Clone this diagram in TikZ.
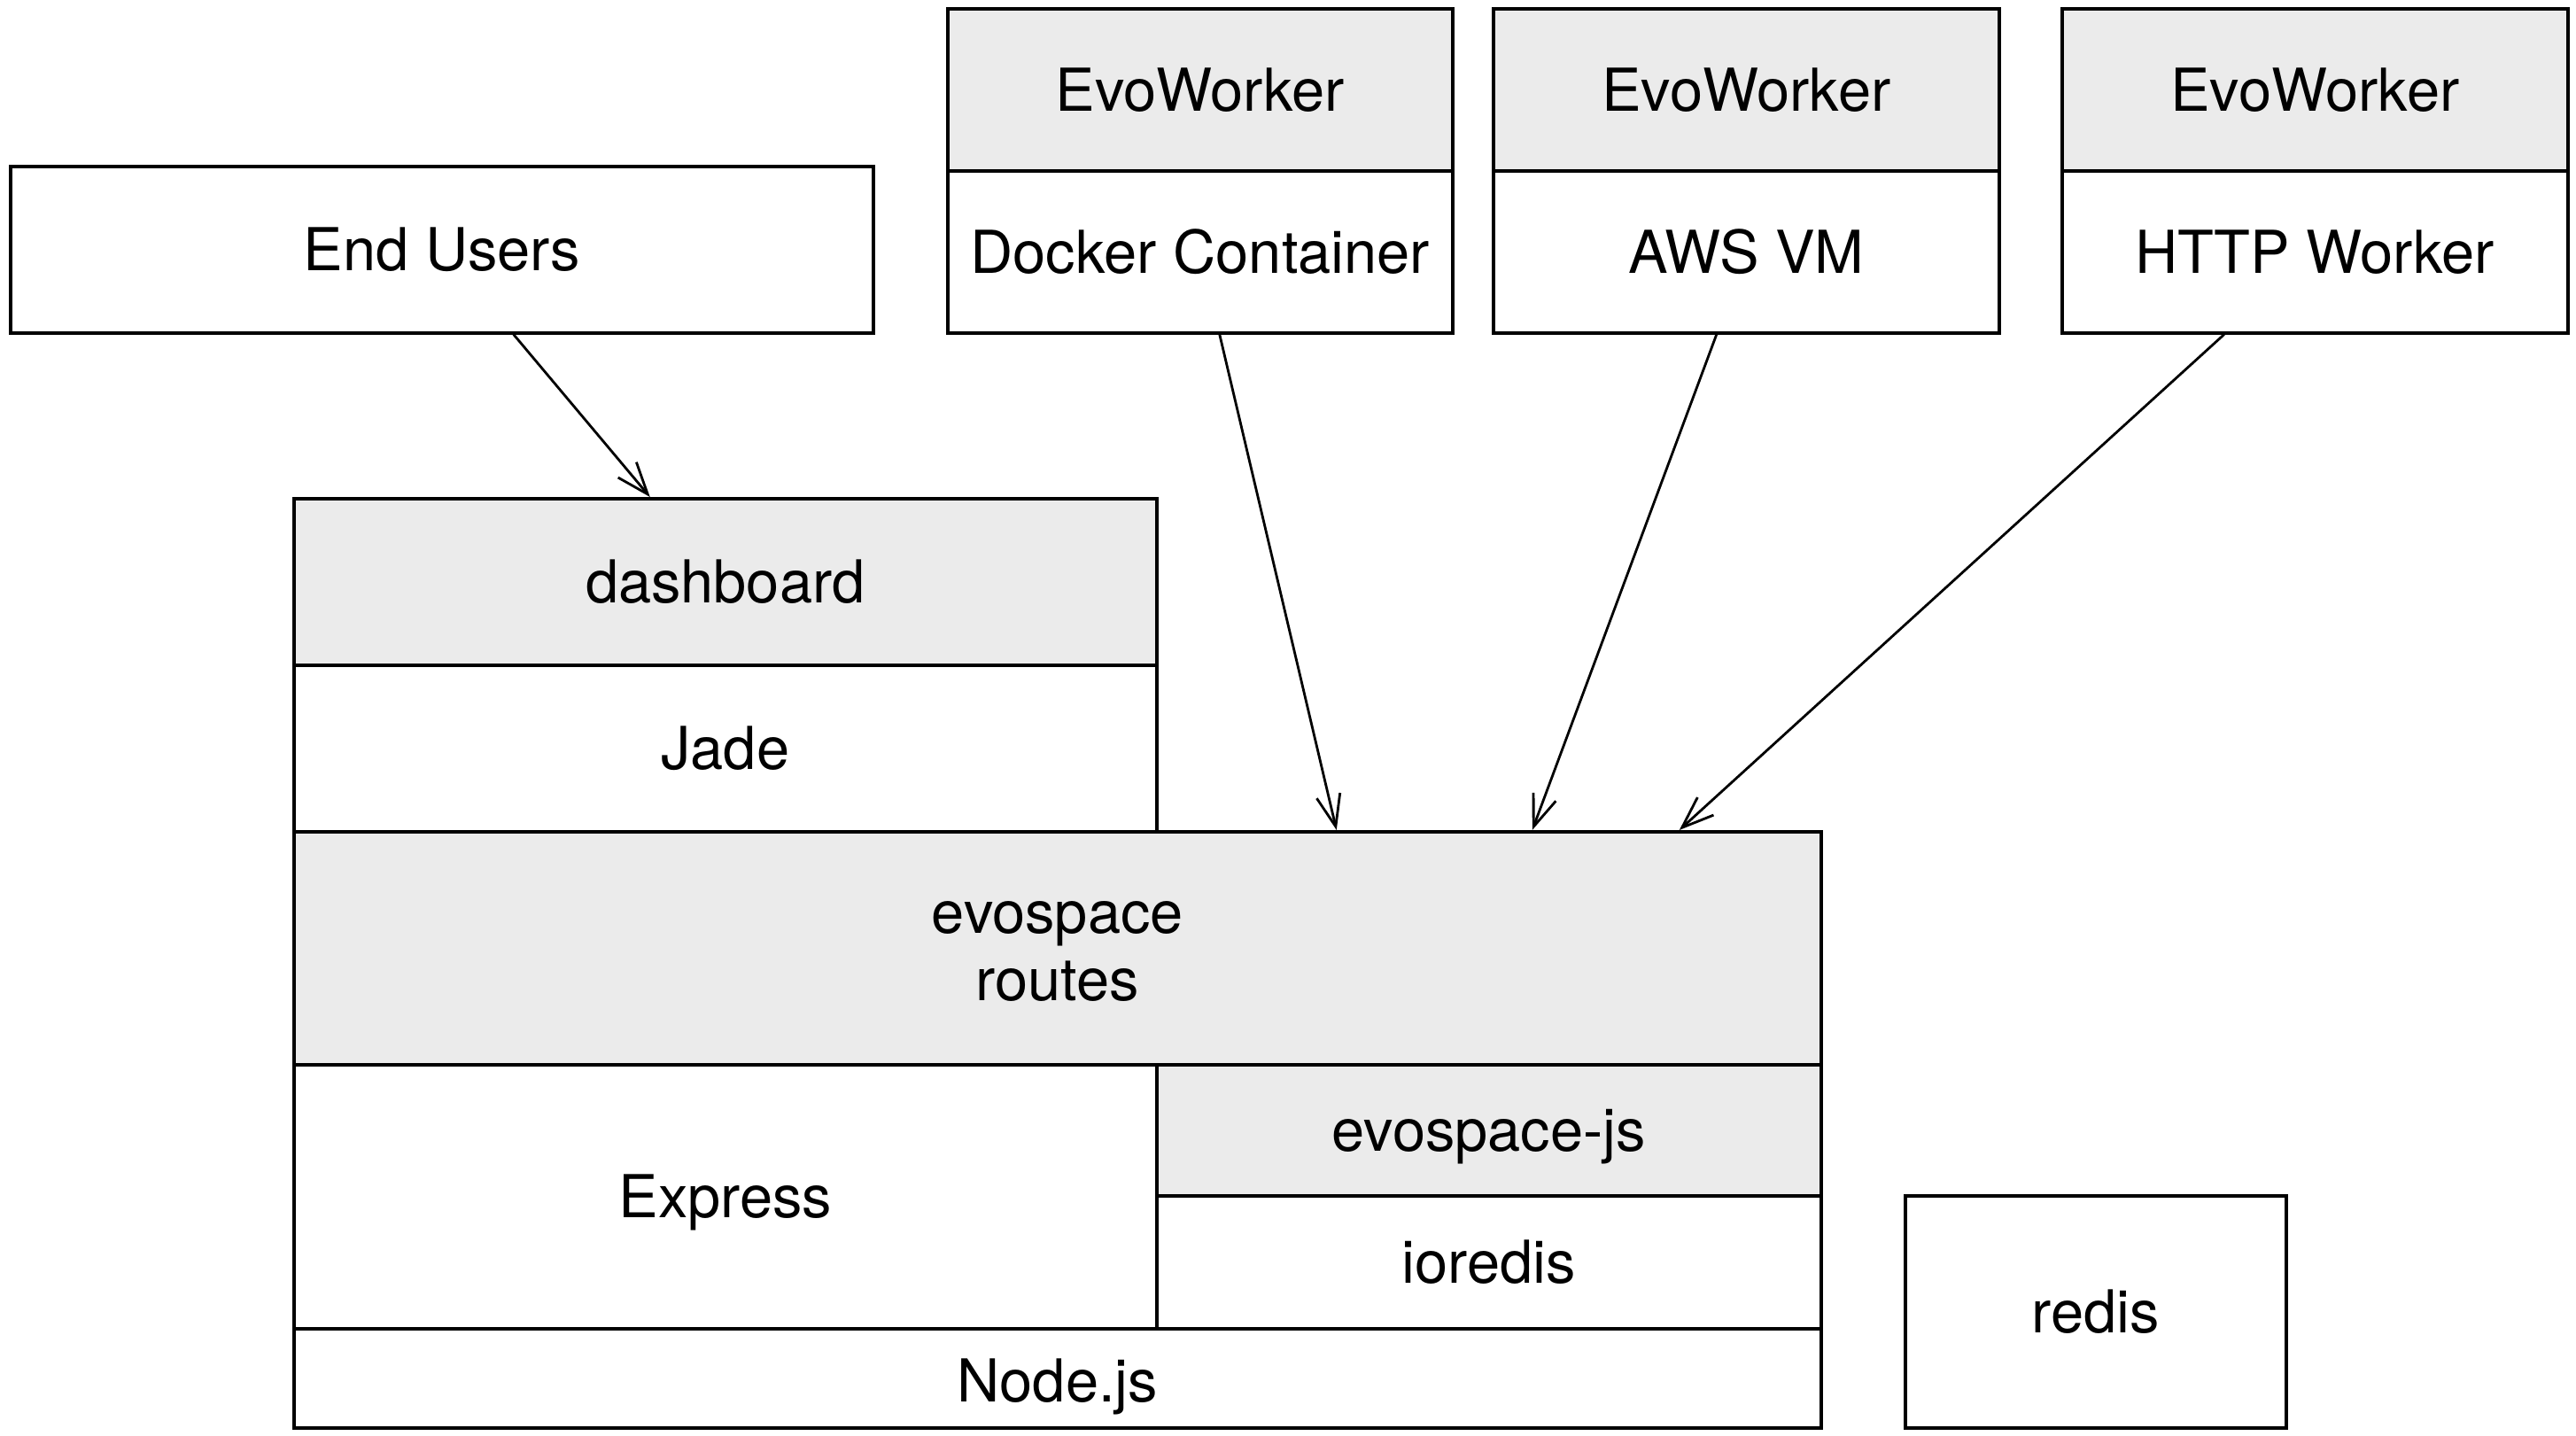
\documentclass[tikz,border=0pt]{standalone}
\usepackage{fontspec}
\setmainfont{TeX Gyre Heros}
\usetikzlibrary{arrows.meta}
\definecolor{hdrgray}{HTML}{EBEBEB}
\newcommand\lowr[2]{\raisebox{-#1}[\height][\depth]{#2}}
\begin{document}
\begin{tikzpicture}[
  blk/.style={draw=black, line width=1pt, anchor=north west, inner sep=0pt,
    align=center, font=\fontsize{19}{21.5}\selectfont, fill=white},
  gblk/.style={blk, fill=hdrgray},
  arr/.style={draw=black, line width=0.8pt, -{Straight Barb[length=3.6mm,width=2.7mm]}}
]
\useasboundingbox (0,0) rectangle (29.08,-16.20);
% top row
\node[blk, minimum width=9.74cm, minimum height=1.88cm] (users) at (0.10,-1.86) {End Users};
\node[gblk, minimum width=5.70cm, minimum height=1.83cm] (w1h) at (10.68,-0.08) {EvoWorker};
\node[blk, minimum width=5.70cm, minimum height=1.83cm] (w1b) at (10.68,-1.91) {Docker Container};
\node[gblk, minimum width=5.71cm, minimum height=1.83cm] (w2h) at (16.84,-0.08) {EvoWorker};
\node[blk, minimum width=5.71cm, minimum height=1.83cm] (w2b) at (16.84,-1.91) {AWS VM};
\node[gblk, minimum width=5.71cm, minimum height=1.83cm] (w3h) at (23.26,-0.08) {EvoWorker};
\node[blk, minimum width=5.71cm, minimum height=1.83cm] (w3b) at (23.26,-1.91) {HTTP Worker};
% stack
\node[gblk, minimum width=9.74cm, minimum height=1.88cm] (dash) at (3.30,-5.61) {dashboard};
\node[blk, minimum width=9.74cm, minimum height=1.88cm] (jade) at (3.30,-7.49) {Jade};
\node[gblk, minimum width=17.24cm, minimum height=2.63cm] (routes) at (3.30,-9.37) {\lowr{0.04cm}{\parbox{6cm}{\centering evospace\\routes}}};
\node[blk, minimum width=9.74cm, minimum height=2.98cm] (express) at (3.30,-12.00) {\lowr{0.07cm}{Express}};
\node[gblk, minimum width=7.50cm, minimum height=1.48cm] (evojs) at (13.04,-12.00) {\lowr{0.07cm}{evospace-js}};
\node[blk, minimum width=7.50cm, minimum height=1.50cm] (ioredis) at (13.04,-13.48) {ioredis};
\node[blk, minimum width=17.24cm, minimum height=1.12cm] (nodejs) at (3.30,-14.98) {\lowr{0.1cm}{Node.js}};
\node[blk, minimum width=4.30cm, minimum height=2.62cm] (redis) at (21.49,-13.48) {redis};
% connectors
\draw[arr] ([xshift=0.81cm]users.south) -- ([xshift=-0.85cm]dash.north);
\draw[arr] ([xshift=0.22cm]w1b.south) -- ([xshift=3.15cm]routes.north);
\draw[arr] ([xshift=-0.335cm]w2b.south) -- ([xshift=5.36cm]routes.north);
\draw[arr] ([xshift=-1.025cm]w3b.south) -- ([xshift=7.02cm]routes.north);
\end{tikzpicture}
\end{document}
